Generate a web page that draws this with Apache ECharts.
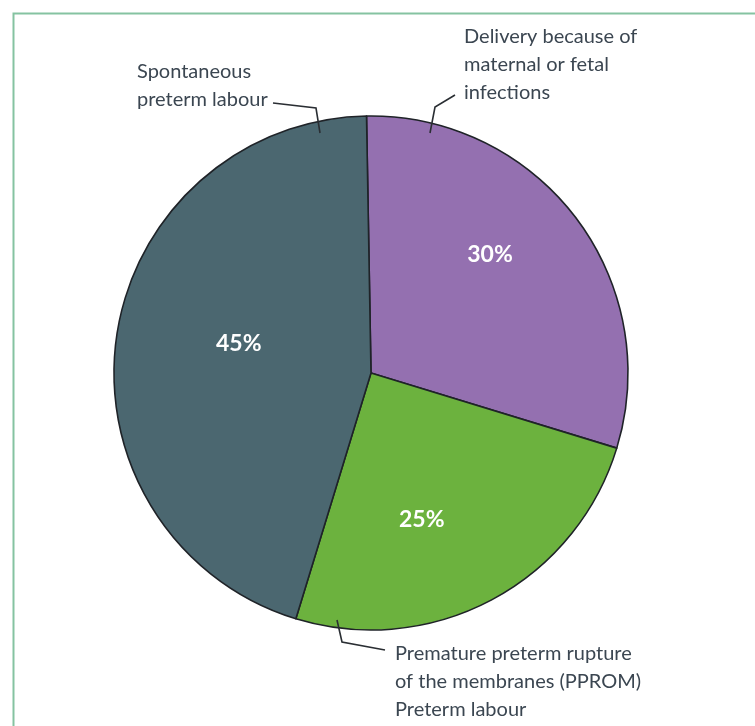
<!DOCTYPE html>
<html>
<head>
<meta charset="utf-8">
<title>Causes of preterm birth</title>
<script src="https://cdn.jsdelivr.net/npm/echarts@6/dist/echarts.min.js"></script>
<style>
  html, body { margin: 0; padding: 0; background: #ffffff; }
  #chart { width: 755px; height: 726px; }
</style>
</head>
<body>
<div id="chart"></div>
<script>
// Causes of preterm birth, share of cases (%), clockwise from the top
const categories = [
  'Delivery because of maternal or fetal infections',
  'Premature preterm rupture of the membranes (PPROM) Preterm labour',
  'Spontaneous preterm labour'
];
const shares = [30, 25, 45];
const labelText = [
  ['Delivery because of', 'maternal or fetal', 'infections'],
  ['Premature preterm rupture', 'of the membranes (PPROM)', 'Preterm labour'],
  ['Spontaneous', 'preterm labour']
];
const sliceColors = ['#9470b0', '#6cb23e', '#4b6770'];

// Placement of the percentage labels relative to the default inside spot
const pctOffsets = [[14, -39], [-11, 30], [-2, -11]];
// Callout text blocks (top-left) and their elbow leader lines
const calloutAnchors = [[464, 23], [395, 640], [137, 58]];
const calloutLines = [
  [[430, 133], [435, 107], [455, 95]],
  [[337, 620], [342, 642], [385, 650]],
  [[320, 133], [316, 108], [273, 103]]
];

const center = [371, 373];
const radius = 257;

const chart = echarts.init(document.getElementById('chart'), null, { renderer: 'canvas' });

const sliceData = categories.map((name, i) => ({
  name: name,
  value: shares[i],
  itemStyle: { color: sliceColors[i] },
  label: { offset: pctOffsets[i] }
}));

const calloutData = categories.map((name, i) => ({
  name: name,
  value: shares[i]
}));

chart.setOption({
  animation: false,
  backgroundColor: '#ffffff',
  graphic: [{
    type: 'rect',
    left: 11,
    top: 11,
    shape: { width: 800, height: 800 },
    style: { fill: 'none', stroke: '#85c3a1', lineWidth: 2 },
    silent: true
  }],
  series: [
    {
      type: 'pie',
      center: center,
      radius: [0, radius],
      startAngle: 91,
      clockwise: true,
      silent: true,
      itemStyle: { borderColor: '#1f2328', borderWidth: 1.6 },
      label: {
        show: true,
        position: 'inside',
        formatter: '{c}%',
        color: '#ffffff',
        fontFamily: 'Lato',
        fontSize: 23,
        fontWeight: 'bold'
      },
      labelLine: { show: false },
      data: sliceData
    },
    {
      type: 'pie',
      center: center,
      radius: [0, radius],
      startAngle: 91,
      clockwise: true,
      silent: true,
      z: 3,
      itemStyle: { color: 'rgba(0,0,0,0)', borderWidth: 0 },
      label: {
        show: true,
        position: 'outside',
        formatter: p => labelText[p.dataIndex].join('\n'),
        color: '#3b4651',
        fontFamily: 'Lato',
        fontSize: 20,
        lineHeight: 28,
        align: 'left',
        width: 320,
        overflow: 'none'
      },
      labelLine: {
        show: true,
        smooth: false,
        lineStyle: { color: '#2a2e33', width: 1.6 }
      },
      labelLayout: function (p) {
        const a = calloutAnchors[p.dataIndex];
        return {
          x: a[0],
          y: a[1],
          align: 'left',
          verticalAlign: 'top',
          labelLinePoints: calloutLines[p.dataIndex]
        };
      },
      data: calloutData
    }
  ]
});
</script>
</body>
</html>
